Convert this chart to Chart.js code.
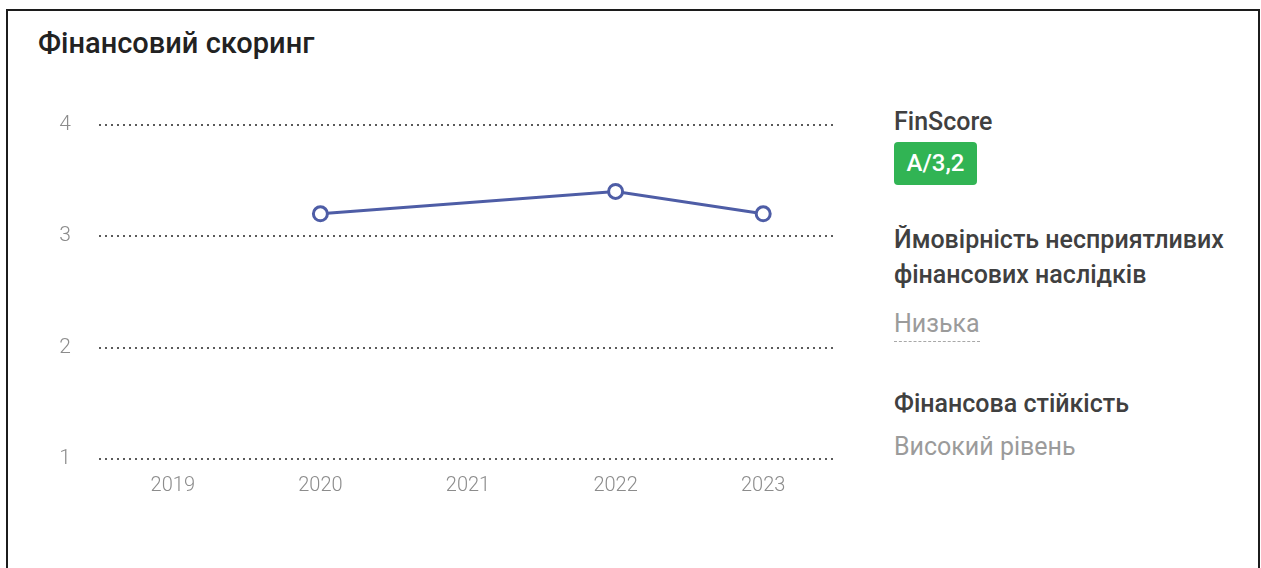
<!DOCTYPE html>
<html lang="uk">
<head>
<meta charset="utf-8">
<title>Фінансовий скоринг</title>
<script src="https://cdn.jsdelivr.net/npm/chart.js@4.4.0/dist/chart.umd.min.js"></script>
<style>
    html, body {
        margin: 0;
        padding: 0;
        background: #fff;
        font-family: Roboto, "Noto Sans", sans-serif;
    }
    .card {
        position: absolute;
        left: 6px;
        top: 9px;
        width: 1254px;
        height: 600px;
        border: 2px solid #1c1c1c;
        border-bottom: none;
        box-sizing: border-box;
    }
    .title {
        position: absolute;
        left: 38px;
        top: 25px;
        font-size: 29px;
        line-height: 36px;
        font-weight: 500;
        color: #222;
        white-space: nowrap;
    }
    .chart-box {
        position: absolute;
        left: 39px;
        top: 84px;
        width: 808px;
        height: 416px;
    }
    .side {
        position: absolute;
        left: 894px;
        white-space: nowrap;
    }
    .label {
        font-size: 25px;
        line-height: 30px;
        font-weight: 500;
        color: #404040;
    }
    .value {
        font-size: 25px;
        line-height: 30px;
        font-weight: 400;
        color: #9b9b9b;
    }
    .badge {
        width: 83px;
        height: 43px;
        line-height: 43px;
        text-align: center;
        background: #31b454;
        color: #fff;
        border-radius: 4px;
        font-size: 24px;
        font-weight: 500;
    }
    .dashed {
        border-bottom: 1px dashed #a8a8a8;
        padding-bottom: 2px;
    }
</style>
</head>
<body>
<div class="card"></div>
<div class="title">Фінансовий скоринг</div>
<div class="chart-box"><canvas id="finscore-chart"></canvas></div>

<div class="side label" style="top:107px">FinScore</div>
<div class="side badge" style="top:142px" id="finscore-badge"></div>
<div class="side label" style="top:225px">Ймовірність несприятливих</div>
<div class="side label" style="top:260px">фінансових наслідків</div>
<div class="side value dashed" style="top:309px">Низька</div>
<div class="side label" style="top:389px">Фінансова стійкість</div>
<div class="side value" style="top:432px">Високий рівень</div>

<script>
// роки та бал FinScore (за 2019 і 2021 даних немає)
const years = ['2019', '2020', '2021', '2022', '2023'];
const scores = [null, 3.2, null, 3.4, 3.2];
const yTicks = [1, 2, 3, 4];
const currentGrade = 'A';

const lineColor = '#4e5da6';
const tickColor = '#8c8c8c';

const latest = scores[scores.length - 1];
document.getElementById('finscore-badge').textContent =
    currentGrade + '/' + String(latest).replace('.', ',');

const ctx = document.getElementById('finscore-chart');

new Chart(ctx, {
    type: 'line',
    data: {
        labels: years,
        datasets: [{
            data: scores,
            borderColor: lineColor,
            borderWidth: 3,
            backgroundColor: '#fff',
            pointBackgroundColor: '#fff',
            pointBorderColor: lineColor,
            pointBorderWidth: 3,
            pointRadius: 7,
            tension: 0,
            spanGaps: true,
        }],
    },
    options: {
        responsive: true,
        maintainAspectRatio: false,
        animation: false,
        layout: {
            padding: { top: 8, right: 1, bottom: 0, left: 0 },
        },
        plugins: {
            legend: { display: false },
            tooltip: { enabled: false },
        },
        scales: {
            x: {
                offset: true,
                grid: { display: false, drawTicks: false },
                border: { display: false },
                ticks: {
                    color: tickColor,
                    padding: 15,
                    font: { family: 'Roboto', size: 20, weight: 300 },
                },
                afterFit(scale) {
                    scale.height = 41;
                },
            },
            y: {
                min: yTicks[0],
                max: yTicks[yTicks.length - 1],
                afterBuildTicks(scale) {
                    scale.ticks = yTicks.map(v => ({ value: v }));
                },
                grid: {
                    color: '#5a5a5a',
                    lineWidth: 2,
                    drawTicks: false,
                },
                border: { display: false, dash: [2, 4] },
                ticks: {
                    color: tickColor,
                    padding: 28,
                    font: { family: 'Roboto', size: 21, weight: 300 },
                },
                afterFit(scale) {
                    scale.width = 60;
                },
            },
        },
    },
});
</script>
</body>
</html>
